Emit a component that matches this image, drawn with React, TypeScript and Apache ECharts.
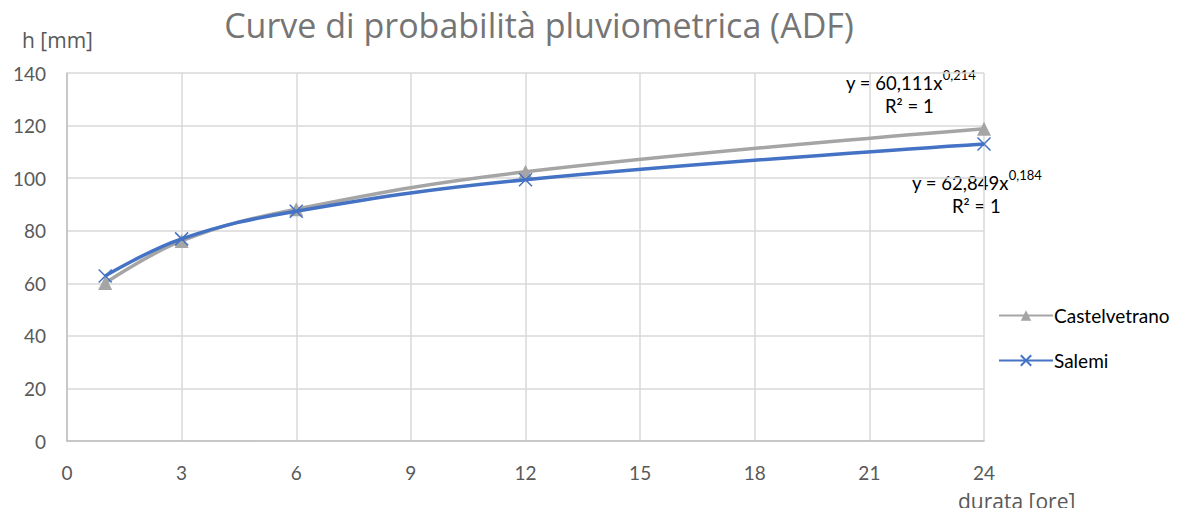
import React, { useEffect, useRef } from "react";
import * as echarts from "echarts";

const durations = [1, 3, 6, 12, 24];
const castelvetrano = [60.1, 76.1, 88.2, 102.4, 118.8];
const salemi = [62.8, 76.9, 87.4, 99.4, 113.0];
const seriesNames = ["Castelvetrano", "Salemi"];
const trendC = { coef: "60,111", exp: "0,214", r2: "1" };
const trendS = { coef: "62,849", exp: "0,184", r2: "1" };
const xAxisName = "durata [ore]";
const yAxisName = "h [mm]";

const FONT = "Lato, 'Open Sans', sans-serif";
const FONT2 = "'Open Sans', sans-serif";
const CROSS = "path://M0,0L10,10M10,0L0,10";

export default function App() {
  const ref = useRef<HTMLDivElement>(null);
  useEffect(() => {
    const chart = echarts.init(ref.current!, null, { renderer: "svg" });
    const rich = {
      b: { fontSize: 18.5, color: "#000", fontFamily: FONT, lineHeight: 24, verticalAlign: "bottom" },
      s: { fontSize: 13, color: "#000", fontFamily: FONT, lineHeight: 14, verticalAlign: "top" },
    };
    chart.setOption({
      animation: false,
      textStyle: { fontFamily: FONT },
      title: {
        text: "Curve di probabilità pluviometrica (ADF)",
        left: 534,
        textAlign: "center",
        top: 3,
        textStyle: { fontSize: 34, fontWeight: "normal", color: "#757575", fontFamily: FONT2 },
      },
      grid: { left: 67, right: 195, top: 73, bottom: 75 },
      legend: {
        orient: "vertical",
        left: 993,
        top: 301,
        itemWidth: 54,
        itemHeight: 13,
        itemGap: 26,
        textStyle: { fontSize: 19, color: "#000", fontFamily: FONT, padding: [0, 0, 0, -4] },
        data: seriesNames,
      },
      xAxis: {
        type: "value",
        min: 0,
        max: 24,
        interval: 3,
        axisLine: { lineStyle: { color: "#BFBFBF", width: 1.5 } },
        axisTick: { show: false },
        axisLabel: { fontSize: 19, color: "#595959", margin: 22 },
        splitLine: { show: true, lineStyle: { color: "#D9D9D9", width: 1.5 } },
      },
      yAxis: {
        type: "value",
        min: 0,
        max: 140,
        interval: 20,
        axisLine: { show: true, lineStyle: { color: "#BFBFBF", width: 1.5 } },
        axisTick: { show: false },
        axisLabel: { fontSize: 19, color: "#595959", margin: 21 },
        splitLine: { show: true, lineStyle: { color: "#D9D9D9", width: 1.5 } },
      },
      series: [
        {
          name: seriesNames[0],
          type: "line",
          smooth: 0.4,
          data: durations.map((d, i) => [d, castelvetrano[i]]),
          symbol: "triangle",
          symbolSize: 14,
          lineStyle: { color: "#A5A5A5", width: 3.5 },
          itemStyle: { color: "#A5A5A5" },
          z: 2,
        },
        {
          name: seriesNames[1],
          type: "line",
          smooth: 0.4,
          data: durations.map((d, i) => [d, salemi[i]]),
          symbol: CROSS,
          symbolSize: 13,
          lineStyle: { color: "#4472C4", width: 3.5 },
          itemStyle: { color: "none", borderColor: "#4472C4", borderWidth: 1.5 },
          z: 3,
        },
      ],
      graphic: [
        {
          type: "text",
          left: 846,
          top: 68,
          style: { text: `{b|y = ${trendC.coef}x}{s|${trendC.exp}}`, rich },
        },
        {
          type: "text",
          left: 885,
          top: 96,
          style: { text: `{b|R² = ${trendC.r2}}`, rich },
        },
        {
          type: "text",
          left: 912,
          top: 168,
          style: { text: `{b|y = ${trendS.coef}x}{s|${trendS.exp}}`, rich },
        },
        {
          type: "text",
          left: 952,
          top: 196,
          style: { text: `{b|R² = ${trendS.r2}}`, rich },
        },
        {
          type: "text",
          left: 22,
          top: 29,
          style: { text: yAxisName, fontSize: 21, fill: "#595959", fontFamily: FONT2 },
        },
        {
          type: "text",
          left: 958,
          top: 490,
          style: { text: xAxisName, fontSize: 21, fill: "#595959", fontFamily: FONT2 },
        },
      ],
    });
    return () => chart.dispose();
  }, []);
  return <div ref={ref} style={{ width: 1179, height: 516, margin: -8 }} />;
}
